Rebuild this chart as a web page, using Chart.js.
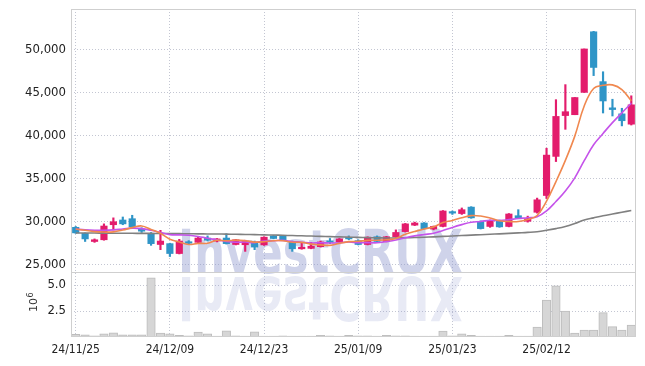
<!DOCTYPE html>
<html>
<head>
<meta charset="utf-8">
<script src="https://cdn.jsdelivr.net/npm/chart.js@4/dist/chart.umd.min.js"></script>
<style>
  html, body { margin: 0; padding: 0; background: #fff; }
</style>
</head>
<body>
<canvas id="myChart" width="645" height="366"></canvas>
<script>
const labels = [
  "24/11/25", "24/11/26", "24/11/27", "24/11/28", "24/11/29", "24/12/02", "24/12/03", "24/12/04", "24/12/05", "24/12/06",
  "24/12/09", "24/12/10", "24/12/11", "24/12/12", "24/12/13", "24/12/16", "24/12/17", "24/12/18", "24/12/19", "24/12/20",
  "24/12/23", "24/12/24", "24/12/26", "24/12/27", "24/12/30", "25/01/02", "25/01/03", "25/01/06", "25/01/07", "25/01/08",
  "25/01/09", "25/01/10", "25/01/13", "25/01/14", "25/01/15", "25/01/16", "25/01/17", "25/01/20", "25/01/21", "25/01/22",
  "25/01/23", "25/01/24", "25/01/31", "25/02/03", "25/02/04", "25/02/05", "25/02/06", "25/02/07", "25/02/10", "25/02/11",
  "25/02/12", "25/02/13", "25/02/14", "25/02/17", "25/02/18", "25/02/19", "25/02/20", "25/02/21", "25/02/24", "25/02/25",
];

const openP = [
  29300, 28600, 27650, 27850, 29600, 30150, 30300, 29100, 28600, 27300,
  27400, 26250, 27600, 27550, 28050, 27700, 28050, 27300, 27270, 27550,
  27250, 28300, 28250, 27600, 26800, 26850, 27050, 27650, 27620, 28100,
  27750, 27300, 28200, 27650, 28200, 28800, 29550, 29800, 29100, 29400,
  31050, 30900, 31650, 30000, 29400, 30100, 29400, 30650, 30000, 31050,
  33000, 37550, 42300, 42400, 45000, 52050, 46250, 43200, 42500, 41300,
];
const highP = [
  29400, 28650, 27950, 29700, 30400, 30500, 30700, 29250, 28700, 28950,
  27450, 27900, 27750, 28150, 28300, 28000, 28550, 27900, 27800, 27700,
  28200, 28350, 28300, 27700, 27550, 27550, 27700, 28000, 28000, 28300,
  27850, 28200, 28300, 28250, 29000, 29750, 29900, 29850, 29450, 31250,
  31200, 31550, 31700, 30050, 30150, 30150, 30900, 31350, 30600, 32700,
  38500, 44150, 45900, 44400, 50050, 52100, 47400, 44200, 43150, 44600,
];
const lowP = [
  28600, 27650, 27550, 27800, 29000, 29600, 29300, 28700, 27200, 26700,
  25900, 26200, 27350, 27500, 27700, 27600, 27350, 27250, 26500, 26700,
  27200, 27950, 27800, 26500, 26750, 26800, 27000, 27400, 27550, 27850,
  27250, 27250, 27650, 27600, 28150, 28750, 29500, 29100, 29000, 29350,
  30800, 30800, 30350, 29100, 29300, 29300, 29350, 30300, 29900, 30950,
  32650, 36950, 40700, 42400, 45000, 46950, 42600, 42250, 41100, 41200,
];
const closeP = [
  28650, 27950, 27850, 29450, 29950, 29700, 29350, 28850, 27400, 27700,
  26250, 27700, 27450, 28050, 27800, 27950, 27400, 27850, 27700, 27000,
  28150, 28000, 27850, 26800, 26950, 27100, 27600, 27550, 27950, 27950,
  27300, 28150, 27650, 28200, 28700, 29700, 29800, 29150, 29400, 31200,
  30950, 31350, 30400, 29150, 30100, 29350, 30850, 30400, 30300, 32500,
  37700, 42200, 42750, 44400, 50050, 47900, 44000, 43000, 41700, 43550,
];
const volume = [
  250000, 220000, 120000, 300000, 400000, 220000, 200000, 220000, 5700000, 380000,
  300000, 150000, 120000, 480000, 300000, 100000, 600000, 120000, 100000, 500000,
  100000, 80000, 120000, 80000, 100000, 80000, 150000, 120000, 80000, 150000,
  120000, 120000, 80000, 150000, 120000, 120000, 100000, 80000, 80000, 580000,
  120000, 300000, 150000, 100000, 80000, 100000, 150000, 100000, 80000, 960000,
  3560000, 4930000, 2500000, 380000, 670000, 670000, 2340000, 990000, 670000, 1150000,
];
const ma5 = [
  29100, 28950, 28800, 28750, 28770, 28980, 29260, 29460, 29050, 28600,
  27910, 27580, 27300, 27430, 27450, 27790, 27730, 27810, 27740, 27580,
  27620, 27740, 27740, 27560, 27550, 27340, 27260, 27200, 27430, 27630,
  27670, 27780, 27800, 27850, 28000, 28480, 28810, 29110, 29350, 29850,
  30100, 30410, 30660, 30610, 30390, 30070, 29970, 29970, 30200, 30680,
  32350, 34620, 37090, 39910, 43420, 45460, 45820, 45870, 45330, 44030,
];
const ma10 = [
  29100, 29000, 28950, 28950, 29000, 29100, 29200, 29150, 28950, 28690,
  28450, 28420, 28380, 28240, 28030, 27850, 27660, 27560, 27590, 27520,
  27710, 27740, 27780, 27650, 27570, 27480, 27500, 27470, 27500, 27590,
  27510, 27520, 27500, 27640, 27820, 28080, 28300, 28460, 28600, 28930,
  29290, 29610, 29890, 29980, 30120, 30090, 30190, 30320, 30410, 30540,
  31210, 32300, 33530, 35060, 37050, 38910, 40220, 41480, 42620, 43730,
];
const ma60 = [
  28640, 28630, 28630, 28620, 28610, 28610, 28600, 28590, 28590, 28580,
  28570, 28560, 28550, 28540, 28530, 28520, 28510, 28490, 28470, 28450,
  28420, 28400, 28370, 28340, 28310, 28280, 28250, 28220, 28190, 28160,
  28130, 28100, 28080, 28060, 28060, 28080, 28110, 28150, 28190, 28240,
  28290, 28340, 28390, 28440, 28490, 28540, 28590, 28650, 28710, 28790,
  28950, 29150, 29400, 29750, 30150, 30400, 30640, 30850, 31050, 31250,
];
const priceTicks = [25000, 30000, 35000, 40000, 45000, 50000];
const volumeTicks = [2500000, 5000000];

const UP = "#e31c6c";
const DOWN = "#2f95c7";
const gridColor = "#c3c6d2";
const tickFont = { family: "'DejaVu Sans Condensed', 'Liberation Sans Narrow', 'DejaVu Sans'", size: 13 };
const candleColor = closeP.map((c, i) => (c >= openP[i] ? UP : DOWN));

// watermark behind the bars, frame and 10^6 label on top
const decor = {
  id: "decor",
  beforeDatasetsDraw(chart) {
    const { ctx, chartArea: a } = chart;
    ctx.save();
    ctx.beginPath();
    ctx.rect(a.left, a.top, a.width, a.height);
    ctx.clip();
    ctx.font = "bold 61px 'DejaVu Sans'";
    ctx.textBaseline = "alphabetic";
    ctx.fillStyle = "rgba(140,150,205,0.42)";
    ctx.fillText("InvestCRUX", 178, 273, 285);
    ctx.translate(0, 550);
    ctx.scale(1, -1);
    ctx.fillStyle = "rgba(140,150,205,0.2)";
    ctx.fillText("InvestCRUX", 178, 273, 285);
    ctx.restore();
  },
  afterDraw(chart) {
    const { ctx, chartArea: a, scales } = chart;
    ctx.save();
    ctx.strokeStyle = "#cfcfcf";
    ctx.lineWidth = 1;
    ctx.strokeRect(Math.round(a.left) + 0.5, Math.round(a.top) + 0.5, Math.round(a.width) - 1, Math.round(a.height) - 1);
    const sy = Math.round(scales.yv.top) + 0.5;
    ctx.beginPath();
    ctx.moveTo(a.left, sy);
    ctx.lineTo(a.right, sy);
    ctx.stroke();

    ctx.translate(37, 312);
    ctx.rotate(-Math.PI / 2);
    ctx.fillStyle = "#333";
    ctx.textAlign = "left";
    ctx.font = "11px 'DejaVu Sans'";
    ctx.fillText("10", 0, 0);
    const w = ctx.measureText("10").width;
    ctx.font = "8px 'DejaVu Sans'";
    ctx.fillText("6", w + 0.5, -4);
    ctx.restore();
  },
};

const fitLeft = (s) => {
  s.width = 71;
  s.paddingTop = 0;
  s.paddingBottom = 0;
};

const ctx = document.getElementById("myChart").getContext("2d");

const myChart = new Chart(ctx, {
  type: "bar",
  data: {
    labels: labels,
    datasets: [
      {
        type: "line",
        label: "MA5",
        data: ma5,
        yAxisID: "y",
        borderColor: "#f0884f",
        borderWidth: 1.6,
        pointRadius: 0,
        tension: 0.4,
        order: 1,
      },
      {
        type: "line",
        label: "MA10",
        data: ma10,
        yAxisID: "y",
        borderColor: "#c553ea",
        borderWidth: 1.6,
        pointRadius: 0,
        tension: 0.4,
        order: 1,
      },
      {
        type: "line",
        label: "MA60",
        data: ma60,
        yAxisID: "y",
        borderColor: "#808080",
        borderWidth: 1.6,
        pointRadius: 0,
        tension: 0.4,
        order: 1,
      },
      {
        label: "body",
        data: openP.map((o, i) => [o, closeP[i]]),
        yAxisID: "y",
        backgroundColor: candleColor,
        barThickness: 6.5,
        minBarLength: 1.5,
        grouped: false,
        order: 2,
      },
      {
        label: "wick",
        data: lowP.map((l, i) => [l, highP[i]]),
        yAxisID: "y",
        backgroundColor: candleColor,
        barThickness: 1.5,
        grouped: false,
        order: 3,
      },
      {
        label: "volume",
        data: volume,
        yAxisID: "yv",
        backgroundColor: "#d6d6d6",
        borderColor: "#bdbdbd",
        borderWidth: 1,
        barThickness: 8.5,
        grouped: false,
        order: 4,
      },
    ],
  },
  options: {
    responsive: false,
    animation: false,
    devicePixelRatio: 1,
    layout: { padding: { top: 9, right: 9, left: 0, bottom: 0 } },
    plugins: {
      legend: { display: false },
      tooltip: { enabled: false },
    },
    scales: {
      x: {
        type: "category",
        offset: true,
        grid: {
          offset: false,
          drawTicks: false,
          color: (c) => (c.index % 10 === 0 ? gridColor : "transparent"),
        },
        border: { display: false, dash: [1, 2] },
        ticks: {
          autoSkip: false,
          maxRotation: 0,
          padding: 6,
          color: "#222",
          font: { family: tickFont.family, size: 12 },
          callback: function (v, i) {
            return i % 10 === 0 ? this.getLabelForValue(v) : "";
          },
        },
        afterFit: (s) => {
          s.height = 29;
          s.paddingLeft = 0;
          s.paddingRight = 0;
        },
      },
      y: {
        type: "linear",
        position: "left",
        stack: "price",
        stackWeight: 263,
        weight: 2,
        min: 24100,
        max: 54700,
        grid: { color: gridColor, drawTicks: false },
        border: { display: false, dash: [1, 2] },
        ticks: {
          padding: 5,
          color: "#222",
          font: tickFont,
          callback: (v) => v.toLocaleString("en-US"),
        },
        afterBuildTicks: (s) => { s.ticks = priceTicks.map((v) => ({ value: v })); },
        afterFit: fitLeft,
      },
      yv: {
        type: "linear",
        position: "left",
        stack: "price",
        stackWeight: 65,
        weight: 1,
        min: 0,
        max: 6250000,
        grid: { color: gridColor, drawTicks: false },
        border: { display: false, dash: [1, 2] },
        ticks: {
          padding: 5,
          color: "#222",
          font: tickFont,
          callback: (v) => (v / 1e6).toFixed(1),
        },
        afterBuildTicks: (s) => { s.ticks = volumeTicks.map((v) => ({ value: v })); },
        afterFit: fitLeft,
      },
    },
  },
  plugins: [decor],
});
</script>
</body>
</html>
